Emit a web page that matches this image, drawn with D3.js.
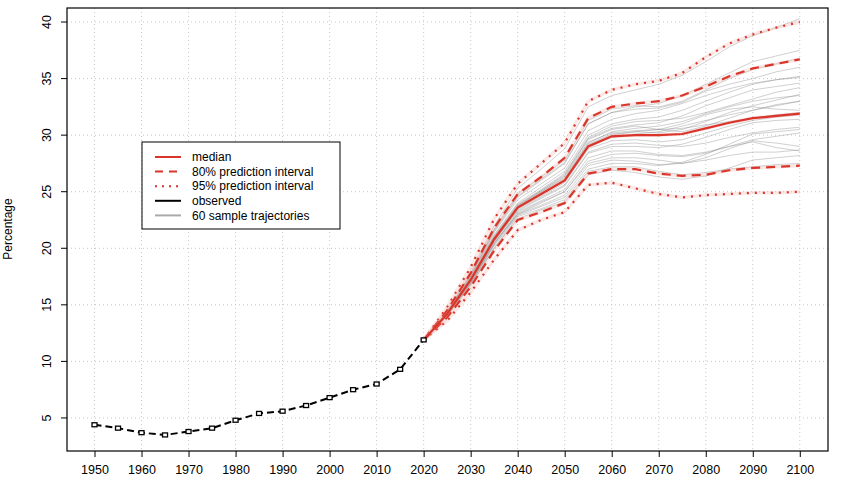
<!DOCTYPE html>
<html><head><meta charset="utf-8">
<script src="https://cdn.jsdelivr.net/npm/d3@7"></script>
<style>body{margin:0;background:#fff}svg{font-family:"Liberation Sans",Arial,sans-serif}</style>
</head><body><svg id="c" width="844" height="485"></svg>
<script>
const obsYears=[1950,1955,1960,1965,1970,1975,1980,1985,1990,1995,2000,2005,2010,2015,2020];
const observed=[4.4,4.1,3.7,3.5,3.8,4.1,4.8,5.4,5.6,6.1,6.8,7.5,8.0,9.3,11.9];
const projYears=[2020,2025,2030,2035,2040,2045,2050,2055,2060,2065,2070,2075,2080,2085,2090,2095,2100];
const median=[11.9,14.2,17.2,20.8,23.6,24.8,26.0,29.0,29.9,30.0,30.0,30.1,30.6,31.1,31.5,31.7,31.9];
const upper80=[11.9,14.5,17.8,21.8,24.8,26.3,28.0,31.5,32.5,32.8,33.0,33.5,34.3,35.2,35.9,36.3,36.7];
const lower80=[11.9,13.9,16.6,19.8,22.5,23.2,24.0,26.6,27.0,27.0,26.6,26.4,26.5,26.9,27.1,27.2,27.3];
const upper95=[11.9,14.8,18.3,22.6,25.7,27.5,29.3,33.0,34.0,34.5,34.8,35.5,36.9,38.1,38.9,39.5,40.0];
const lower95=[11.9,13.6,16.1,19.0,21.6,22.5,23.2,25.6,25.8,25.3,24.8,24.5,24.7,24.8,24.9,24.9,25.0];
const trajectories=[
[11.9,14.3,17.5,21.5,24.5,26,27.5,31,32,32.5,32.8,33.5,34.5,35.5,36.5,37,37.5],
[11.9,14.1,17,20.5,23,24,25,27.5,28,28,27.8,27.5,27.8,28.2,28.5,28.5,28.7],
[11.9,14.4,17.8,22,25.3,27,28.8,32.5,33.5,34,34.5,35.3,36.5,37.8,38.8,39.5,40.3],
[11.9,14.0,16.8,20,22.8,23.5,24.3,26.8,27.2,27.2,26.8,26.5,26.7,27,27.2,27.4,27.5],
[11.9,14.2,17.2,20.9,23.7,25,26.2,29.3,30.3,30.6,30.8,31.2,31.9,32.5,33,33.3,33.5],
[11.9,14.2,17.1,20.6,23.4,24.5,25.6,28.5,29.2,29.3,29.1,29,29.3,29.8,30.2,30.5,30.7],
[11.9,14.3,17.4,21.2,24,25.4,26.8,30,31,31.4,31.6,32.2,33,33.8,34.5,34.9,35.2],
[11.9,14.1,16.9,20.3,23,23.8,24.7,27.3,27.8,27.7,27.4,27.5,28,28.8,29.5,29.3,29],
[11.9,14.3,17.3,21,23.8,25.1,26.4,29.6,30.5,30.8,30.5,30.3,30.8,31.5,32.2,32.7,33],
[11.9,14.2,17.1,20.7,23.5,24.6,25.8,28.8,29.5,29.6,29.4,29.6,30.2,30.8,31.3,31.6,31.8],
[11.9,14.4,17.7,21.7,24.8,26.3,27.8,31.3,32.3,32.6,32.5,33,34,35,35.8,36.3,36.8],
[11.9,14,16.7,20,22.6,23.4,24.1,26.5,26.9,26.7,26.3,26.1,26.4,27.1,27.8,28,28.2],
[11.9,14.2,17.2,20.8,23.6,24.8,26,29,29.8,30.1,30.3,30.8,31.3,31.8,32.2,32.6,33],
[11.9,14.3,17.5,21.4,24.3,25.7,27.1,30.4,31.4,31.9,32.2,32.8,33.5,34.1,34.6,34.9,35.1],
[11.9,14.1,17,20.4,23.2,24.2,25.2,28,28.6,28.6,28.3,28.2,28.5,29,29.6,29.9,30.2],
[11.9,14.2,17.2,20.8,23.6,24.9,26.1,29.2,30.1,30.3,30.2,30.5,31.2,32,32.6,33.1,33.6],
[11.9,14.1,16.9,20.2,22.9,23.7,24.5,27,27.5,27.5,27.3,27.6,28.3,29.2,30.1,30.3,30.5],
[11.9,14.3,17.4,21.1,23.9,25.2,26.6,29.8,30.8,31.2,31.3,31.5,32,32.6,33.2,33.8,34.2],
[11.9,14.2,17.3,20.9,23.7,25,26.3,29.4,30.2,30.4,30.5,31,31.8,32.3,32.5,32.3,32.2],
[11.9,14.2,17.1,20.6,23.3,24.4,25.5,28.4,29,29,28.9,29.2,29.8,30.5,31.1,31.3,31.4],
[11.9,14.4,17.6,21.6,24.6,26.1,27.6,31,32,32.3,32.4,32.9,33.9,34.5,35,35.6,36],
[11.9,14.1,16.9,20.4,23.1,24.1,25,27.7,28.3,28.4,28.2,28.1,28.4,29,29.4,28.9,28.6],
[11.9,14.3,17.3,21,23.8,25.1,26.5,29.7,30.6,30.9,31.1,31.7,32.6,33.3,34,34.3,34.6],
[11.9,14.2,17.2,20.8,23.6,24.8,26,29.1,30,30.3,30.5,30.6,30.9,31.2,31.5,31.8,32]
];
const xTicks=d3.range(1950,2101,10);
const yTicks=[5,10,15,20,25,30,35,40];
const legendLabels=["median","80% prediction interval","95% prediction interval","observed","60 sample trajectories"];

const svg=d3.select("#c");
const L=67,R=828,T=8,B=451;
const x=d3.scaleLinear().domain([1944.15,2106]).range([L,R]);
const y=d3.scaleLinear().domain([2.08,41.24]).range([B,T]);
const red="#d9352a";

svg.append("g").selectAll("line").data(xTicks).join("line")
 .attr("x1",d=>x(d)).attr("x2",d=>x(d)).attr("y1",T).attr("y2",B)
 .attr("stroke","#c8c8c8").attr("stroke-dasharray","1,3");
svg.append("g").selectAll("line").data(yTicks).join("line")
 .attr("y1",d=>y(d)).attr("y2",d=>y(d)).attr("x1",L).attr("x2",R)
 .attr("stroke","#c8c8c8").attr("stroke-dasharray","1,3");

const line=(xs)=>d3.line().x((d,i)=>x(xs[i])).y(d=>y(d));
const gT=svg.append("g");
trajectories.forEach(t=>gT.append("path").attr("d",line(projYears)(t))
 .attr("fill","none").attr("stroke","#8a8a8a").attr("stroke-opacity",0.5).attr("stroke-width",0.8));

[[upper95,"2,6"],[lower95,"2,6"],[upper80,"9,6"],[lower80,"9,6"],[median,null]].forEach(([v,da])=>{
 svg.append("path").attr("d",line(projYears)(v)).attr("fill","none").attr("stroke","#f4b3ad").attr("stroke-opacity",0.3).attr("stroke-width",3.5);
 const p=svg.append("path").attr("d",line(projYears)(v)).attr("fill","none").attr("stroke",red).attr("stroke-width",2.2);
 if(da)p.attr("stroke-dasharray",da);
});

svg.append("path").attr("d",line(obsYears)(observed)).attr("fill","none").attr("stroke","#000").attr("stroke-width",2).attr("stroke-dasharray","7,4");
svg.append("g").selectAll("rect").data(observed).join("rect")
 .attr("x",(d,i)=>x(obsYears[i])-2.5).attr("y",d=>y(d)-2).attr("width",5).attr("height",4)
 .attr("fill","#fff").attr("stroke","#000").attr("stroke-width",1.3);

svg.append("rect").attr("x",L).attr("y",T).attr("width",R-L).attr("height",B-T).attr("fill","none").attr("stroke","#000").attr("stroke-width",1.2);

const xa=svg.append("g").attr("transform",`translate(0,${B})`).call(d3.axisBottom(x).tickValues(xTicks).tickFormat(d3.format("d")).tickSize(6).tickPadding(8));
xa.select(".domain").remove();
xa.selectAll("text").attr("font-size",12.5).attr("fill","#000").attr("font-family","Liberation Sans,Arial");
const ya=svg.append("g").attr("transform",`translate(${L},0)`).call(d3.axisLeft(y).tickValues(yTicks).tickSize(6).tickPadding(4));
ya.select(".domain").remove();
ya.selectAll("text").attr("font-size",12.5).attr("fill","#000").attr("font-family","Liberation Sans,Arial")
 .attr("text-anchor","middle").attr("transform",function(d){return `translate(-20,${y(d)}) rotate(-90)`;}).attr("x",0).attr("y",0).attr("dy","0.35em");
ya.selectAll(".tick").attr("transform",null);
ya.selectAll(".tick line").attr("x2",-6).attr("y1",d=>y(d)).attr("y2",d=>y(d));
svg.append("text").attr("transform","translate(12,229) rotate(-90)").attr("text-anchor","middle").attr("font-size",12).text("Percentage");

const lg=svg.append("g");
lg.append("rect").attr("x",142).attr("y",142).attr("width",198).attr("height",87).attr("fill","#fff").attr("stroke","#000");
const styles=[[red,null],[red,"8,6"],[red,"2,5"],["#000",null],["#aaa",null]];
legendLabels.forEach((t,i)=>{
 const yy=157+i*14.6;
 const l=lg.append("line").attr("x1",155).attr("x2",181).attr("y1",yy).attr("y2",yy).attr("stroke",styles[i][0]).attr("stroke-width",2);
 if(styles[i][1])l.attr("stroke-dasharray",styles[i][1]);
 lg.append("text").attr("x",192).attr("y",yy).attr("dy","0.35em").attr("font-size",12).text(t);
});
</script></body></html>
